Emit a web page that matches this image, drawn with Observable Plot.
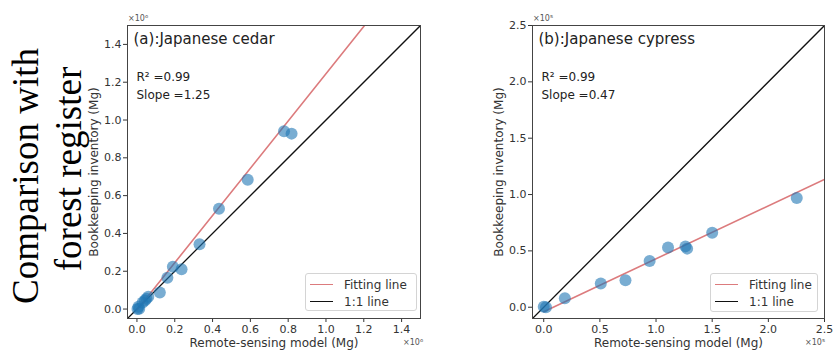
<!DOCTYPE html>
<html>
<head>
<meta charset="utf-8">
<script src="https://cdn.jsdelivr.net/npm/d3@7"></script>
<script src="https://cdn.jsdelivr.net/npm/@observablehq/plot@0.6"></script>
<style>
  html, body { margin: 0; padding: 0; background: #fff; }
  #root { position: relative; width: 833px; height: 353px; overflow: hidden; font-family: "DejaVu Sans", sans-serif; }
  .legend { position: absolute; background: rgba(255,255,255,0.85); border: 1px solid #d4d4d4; border-radius: 3px; font-size: 12px; color: #333; box-sizing: border-box; padding: 2px 4px; }
  .legend .row { display: flex; align-items: center; height: 17px; }
  .legend .sw { width: 23px; height: 0; margin-right: 11px; }
  .mult { position: absolute; font-size: 8px; color: #555; line-height: 9px; }
  .cut { position: absolute; font-size: 10px; color: #888; }
</style>
</head>
<body>
<div id="root"></div>
<script>
// ---- data ----
const cedarTitle = "(a):Japanese cedar";
const cedarX = [0.003, 0.008, 0.012, 0.03, 0.042, 0.05, 0.06, 0.121, 0.161, 0.19, 0.236, 0.331, 0.434, 0.586, 0.778, 0.818];
const cedarY = [0.0, 0.012, 0.002, 0.035, 0.045, 0.055, 0.065, 0.087, 0.166, 0.224, 0.21, 0.343, 0.53, 0.684, 0.94, 0.928];
const cedarSlope = 1.25, cedarIntercept = -0.005, cedarR2 = "0.99";
const cedarDomain = [-0.05, 1.5];
const cedarTicks = [0, 0.2, 0.4, 0.6, 0.8, 1.0, 1.2, 1.4];

const cypressTitle = "(b):Japanese cypress";
const cypressX = [0.0, 0.02, 0.188, 0.508, 0.728, 0.943, 1.107, 1.262, 1.277, 1.50, 2.253];
const cypressY = [0.005, 0.0, 0.08, 0.21, 0.24, 0.41, 0.53, 0.54, 0.52, 0.66, 0.97];
const cypressSlope = 0.47, cypressIntercept = -0.04, cypressR2 = "0.99";
const cypressDomain = [-0.1, 2.5];
const cypressTicks = [0, 0.5, 1.0, 1.5, 2.0, 2.5];

const xLabel = "Remote-sensing model (Mg)";
const yLabel = "Bookkeeping inventory (Mg)";
const legendLabels = ["Fitting line", "1:1 line"];
const sideLabel = ["Comparison with", "forest register"];

const pointColor = "rgba(31,119,180,0.6)";
const fitColor = "#dc7b7d";

function panel({xs, ys, slope, intercept, r2, domain, ticks, title, width, marginLeft, marginRight, fmt}) {
  const pts = xs.map((x, i) => ({x, y: ys[i]}));
  const one = domain.map(v => ({x: v, y: v}));
  const fit = [0, domain[1]].map(x => ({x, y: slope * x + intercept}));
  return Plot.plot({
    width, height: 353,
    marginLeft, marginRight, marginTop: 25, marginBottom: 35,
    style: {fontFamily: "DejaVu Sans", fontSize: "11px", color: "#333", background: "transparent", overflow: "visible"},
    x: {domain, ticks, tickFormat: d3.format(fmt), label: null, tickSize: 4, tickPadding: 3},
    y: {domain, ticks, tickFormat: d3.format(fmt), label: null, tickSize: 4, tickPadding: 2},
    marks: [
      Plot.line(one, {x: "x", y: "y", stroke: "#111", strokeWidth: 1.3, clip: true}),
      Plot.line(fit, {x: "x", y: "y", stroke: fitColor, strokeWidth: 1.6, clip: true}),
      Plot.dot(pts, {x: "x", y: "y", r: 6, fill: pointColor, stroke: "none"}),
      Plot.frame({stroke: "#444", strokeWidth: 1}),
      Plot.text([title], {frameAnchor: "top-left", dx: 6, dy: 8, fontSize: 15, fill: "#222", lineAnchor: "top", textAnchor: "start"}),
      Plot.text(["R\u00b2 =" + r2], {frameAnchor: "top-left", dx: 9, dy: 47, fontSize: 12, fill: "#222", lineAnchor: "top", textAnchor: "start"}),
      Plot.text(["Slope =" + slope.toFixed(2)], {frameAnchor: "top-left", dx: 9, dy: 65, fontSize: 12, fill: "#222", lineAnchor: "top", textAnchor: "start"}),
      Plot.text([xLabel], {frameAnchor: "bottom", dy: 25, fontSize: 12, fill: "#333", lineAnchor: "middle", textAnchor: "middle"}),
      Plot.text([yLabel], {frameAnchor: "left", dx: -33, rotate: -90, fontSize: 12, fill: "#333", lineAnchor: "middle", textAnchor: "middle"})
    ]
  });
}

const root = document.getElementById("root");

function place(el, left, top) {
  el.style.position = "absolute";
  el.style.left = left + "px";
  el.style.top = top + "px";
  root.appendChild(el);
  return el;
}

// side label (serif, rotated)
const ns = "http://www.w3.org/2000/svg";
const side = document.createElementNS(ns, "svg");
side.setAttribute("width", 100); side.setAttribute("height", 353);
const sideX = [38, 81], sideY = [176, 169];
sideLabel.forEach((t, i) => {
  const tx = document.createElementNS(ns, "text");
  tx.setAttribute("transform", `translate(${sideX[i]},${sideY[i]}) rotate(-90)`);
  tx.setAttribute("text-anchor", "middle");
  tx.setAttribute("font-family", "Liberation Serif, Times New Roman, serif");
  tx.setAttribute("font-size", 37);
  tx.setAttribute("fill", "#000");
  tx.textContent = t;
  side.appendChild(tx);
});

const left = panel({xs: cedarX, ys: cedarY, slope: cedarSlope, intercept: cedarIntercept, r2: cedarR2,
  domain: cedarDomain, ticks: cedarTicks, title: cedarTitle, width: 430, marginLeft: 127, marginRight: 10, fmt: ".1f"});
const right = panel({xs: cypressX, ys: cypressY, slope: cypressSlope, intercept: cypressIntercept, r2: cypressR2,
  domain: cypressDomain, ticks: cypressTicks, title: cypressTitle, width: 403, marginLeft: 102, marginRight: 9, fmt: ".1f"});

place(left, 0, 0);
place(right, 430, 0);
place(side, 0, 0);

// cut-off map labels at the very top (cropped in the source figure)
const cuts = [["140°20'0\"E", 208], ["140°40'0\"E", 355], ["140°20'0\"E", 590], ["140°40'0\"E", 738]];
cuts.forEach(([t, x]) => { const d = document.createElement("div"); d.className = "cut"; d.textContent = t; place(d, x, -9); });

// scale multipliers
const mults = [["\u00d710\u2076", 128, 14], ["\u00d710\u2076", 403, 338], ["\u00d710\u2075", 533, 14], ["\u00d710\u2075", 805, 338]];
mults.forEach(([t, x, y]) => { const d = document.createElement("div"); d.className = "mult"; d.textContent = t; place(d, x, y); });

// legends
function legend(x, y, w, h) {
  const d = document.createElement("div");
  d.className = "legend";
  d.style.width = w + "px"; d.style.height = h + "px";
  const colors = [fitColor, "#111"];
  legendLabels.forEach((lab, i) => {
    const row = document.createElement("div"); row.className = "row";
    const sw = document.createElement("div"); sw.className = "sw";
    sw.style.borderTop = `1.6px solid ${colors[i]}`;
    const t = document.createElement("span"); t.textContent = lab;
    row.appendChild(sw); row.appendChild(t); d.appendChild(row);
  });
  place(d, x, y);
}
legend(305, 273, 112, 38);
legend(710, 273, 108, 39);
</script>
</body>
</html>
